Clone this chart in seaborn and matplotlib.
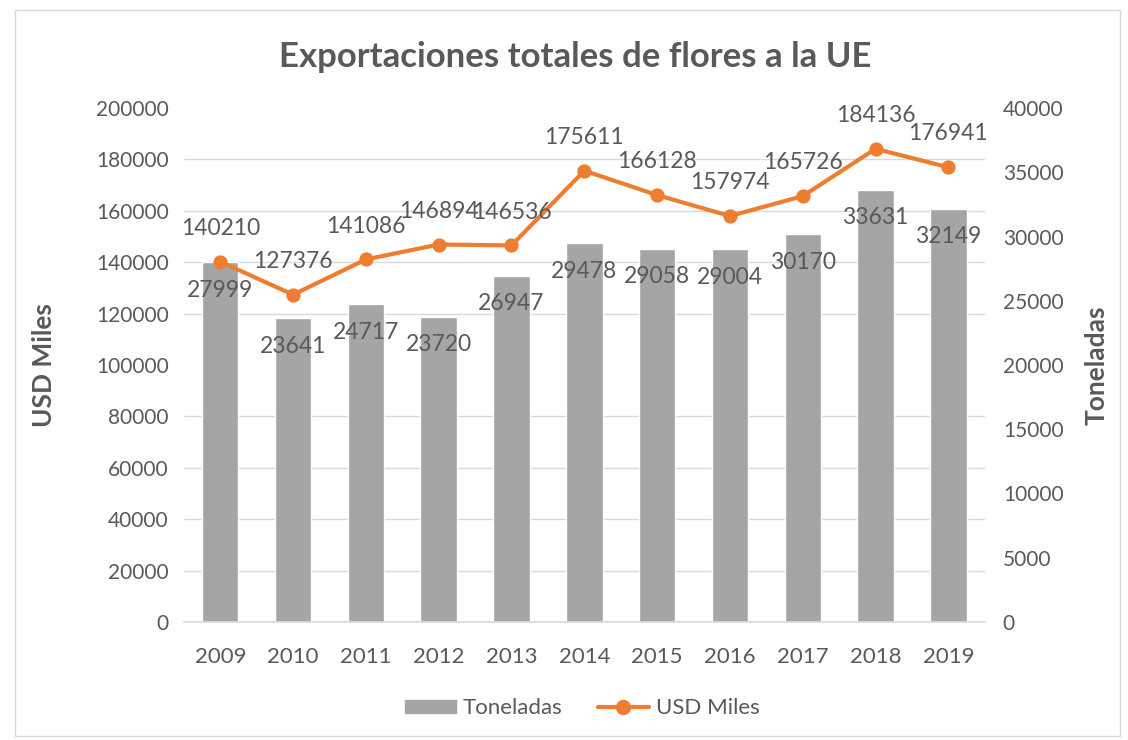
import matplotlib
matplotlib.use("Agg")
import matplotlib.pyplot as plt
import seaborn as sns
import numpy as np
from matplotlib.ticker import MultipleLocator
from matplotlib.lines import Line2D
from matplotlib.patches import Patch, Rectangle

years = ["2009", "2010", "2011", "2012", "2013", "2014", "2015", "2016", "2017", "2018", "2019"]
toneladas = [27999, 23641, 24717, 23720, 26947, 29478, 29058, 29004, 30170, 33631, 32149]
usd_miles = [140210, 127376, 141086, 146894, 146536, 175611, 166128, 157974, 165726, 184136, 176941]

sns.set_theme(style="white")
plt.rcParams["font.family"] = ["Lato", "DejaVu Sans"]
TXT = "#595959"
GRAY = "#A5A5A5"
ORANGE = "#ED7D31"

fig = plt.figure(figsize=(11.28, 7.4), dpi=100)
axb = fig.add_axes([0.163, 0.1595, 0.71, 0.6945])
axl = axb.twinx()

# bars (Toneladas) on the right scale
sns.barplot(x=years, y=toneladas, ax=axb, color=GRAY, width=0.5, saturation=1, zorder=2)
axb.set_ylim(0, 40000)
axb.yaxis.tick_right()
axb.yaxis.set_label_position("right")
axb.yaxis.set_major_locator(MultipleLocator(5000))
axb.yaxis.set_minor_locator(MultipleLocator(4000))
axb.grid(which="minor", axis="y", color="#D9D9D9", linewidth=1, zorder=0)
axb.grid(which="major", axis="y", visible=False)
axb.set_axisbelow(True)
for i, v in enumerate(toneladas):
    axb.annotate(str(v), (i, v), xytext=(0, -20), textcoords="offset points",
                 ha="center", va="center", fontsize=16.5, color=TXT, zorder=5)

# line (USD Miles) on the left scale
sns.pointplot(x=years, y=usd_miles, ax=axl, color=ORANGE, markers="o",
              linewidth=3, markersize=8)
axl.set_ylim(0, 200000)
axl.yaxis.tick_left()
axl.yaxis.set_label_position("left")
axl.yaxis.set_major_locator(MultipleLocator(20000))
for i, v in enumerate(usd_miles):
    axl.annotate(str(v), (i, v), xytext=(0, 24), textcoords="offset points",
                 ha="center", va="center", fontsize=16.5, color=TXT)

for ax in (axb, axl):
    for s in ax.spines.values():
        s.set_visible(False)
    ax.tick_params(axis="both", which="both", length=0, labelsize=15, labelcolor=TXT)
axl.tick_params(axis="y", pad=11)
axb.tick_params(axis="y", pad=13)
axb.tick_params(axis="x", labelsize=16, pad=18)
axb.spines["bottom"].set_visible(True)
axb.spines["bottom"].set_color("#D9D9D9")
axb.set_xlabel("")
axl.set_xlabel("")
axl.set_ylabel("USD Miles", fontsize=19, fontweight="bold", color=TXT)
axb.set_ylabel("Toneladas", fontsize=19, fontweight="bold", color=TXT)
axl.yaxis.set_label_coords(-0.16, 0.5)
axb.yaxis.set_label_coords(1.125, 0.5)
axb.set_xlim(-0.5, len(years) - 0.5)

fig.suptitle("Exportaciones totales de flores a la UE", fontsize=25, fontweight="bold",
             color=TXT, y=0.945, x=0.51)

handles = [Patch(color=GRAY, label="Toneladas"),
           Line2D([0], [0], color=ORANGE, lw=3, marker="o", markersize=10, label="USD Miles")]
fig.legend(handles=handles, loc="center", bbox_to_anchor=(0.516, 0.043), ncol=2,
           frameon=False, fontsize=16, labelcolor=TXT, handlelength=2.3, handleheight=0.5,
           handletextpad=0.3, columnspacing=1.6)

fig.patches.append(Rectangle((0.013, 0.005), 0.98, 0.982, transform=fig.transFigure,
                             fill=False, edgecolor="#D9D9D9", linewidth=1))

fig.savefig("out.png", dpi=100)
